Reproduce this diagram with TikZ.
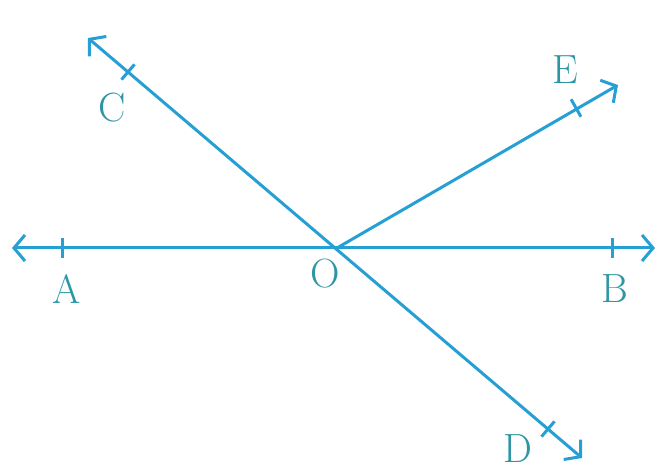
\documentclass[tikz,border=0pt]{standalone}
\usetikzlibrary{arrows.meta,calc}
\definecolor{linecol}{RGB}{38,160,212}
\definecolor{labcol}{RGB}{45,150,165}
\begin{document}
\begin{tikzpicture}[x=1bp,y=-1bp,
  ln/.style={draw=linecol,line width=3bp},
  tip/.style={-{Straight Barb[length=11bp,width=26bp,line width=3bp]}},
  btip/.style={{Straight Barb[length=11bp,width=26bp,line width=3bp]}-{Straight Barb[length=11bp,width=26bp,line width=3bp]}},
  tickmark/.style={draw=linecol,line width=3bp},
  lab/.style={text=labcol,font=\fontsize{41}{41}\selectfont,inner sep=0pt}]
\useasboundingbox (0,0) rectangle (657,472);
% points
\coordinate (O) at (337,248);
\coordinate (Aend) at (12,248);
\coordinate (Bend) at (655,248);
\coordinate (Cend) at (88,38);
\coordinate (Dend) at (582,458);
\coordinate (Eend) at (618,85);
\coordinate (A) at (62,248);
\coordinate (B) at (612,248);
\coordinate (C) at (128,72);
\coordinate (D) at (548,429);
\coordinate (E) at (576,108);
% lines
\draw[ln,btip] (Aend) -- (Bend);
\draw[ln,btip] (Cend) -- (Dend);
\draw[ln,tip] (O) -- (Eend);
% ticks
\draw[tickmark] ([yshift=-10bp]A) -- ([yshift=10bp]A);
\draw[tickmark] ([yshift=-10bp]B) -- ([yshift=10bp]B);
\draw[tickmark] ($(C)+(-6.5,7.6)$) -- ($(C)+(6.5,-7.6)$);
\draw[tickmark] ($(D)+(-6.5,7.6)$) -- ($(D)+(6.5,-7.6)$);
\draw[tickmark] ($(E)+(-4.9,-8.7)$) -- ($(E)+(4.9,8.7)$);
% labels
\node[lab] (lA) at (67,289) {A};
\node[lab] (lB) at (615,289) {B};
\node[lab] (lC) at (112,108) {C};
\node[lab] (lD) at (518,449) {D};
\node[lab] (lE) at (565,70) {E};
\node[lab] (lO) at (325,274) {O};
\end{tikzpicture}
\end{document}
